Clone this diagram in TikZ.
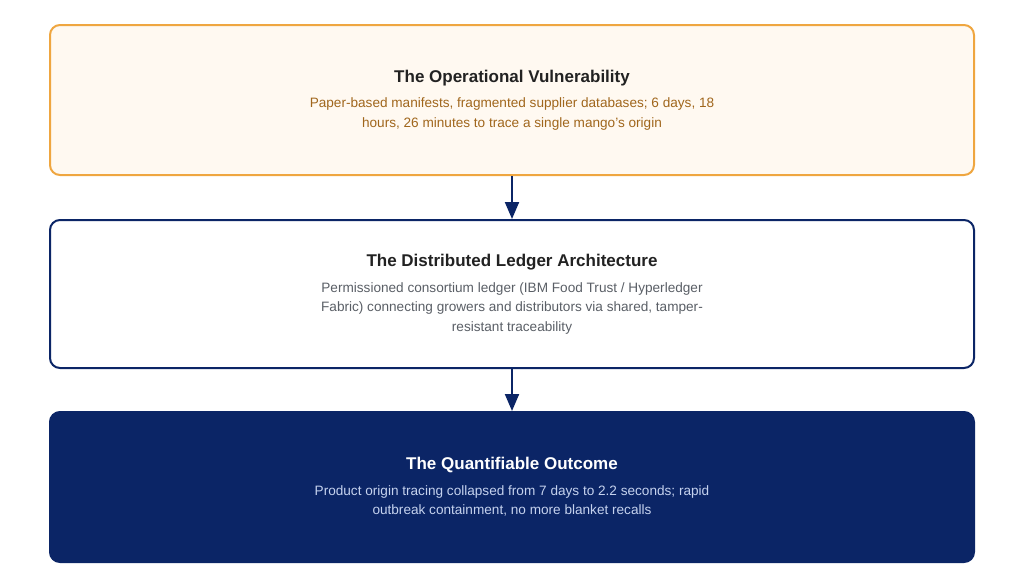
\documentclass[tikz,border=0pt]{standalone}
\usepackage{fontspec}
\setmainfont{Liberation Sans}
\usepackage{xcolor}
\usetikzlibrary{positioning,arrows.meta}
\definecolor{warnedge}{HTML}{EFA640}
\definecolor{warnfill}{HTML}{FFF9F1}
\definecolor{warntext}{HTML}{A0661C}
\definecolor{navy}{HTML}{0B2566}
\definecolor{greytext}{HTML}{5A5F66}
\definecolor{paleblue}{HTML}{C5D2EE}
\definecolor{titledark}{HTML}{222222}
\newcommand{\cardbody}[2]{\parbox[t]{600pt}{\centering\fontsize{13.6}{19.5}\selectfont\color{#1}#2}}

\begin{document}
\begin{tikzpicture}[x=1pt,y=1pt,
    card/.style={rounded corners=10pt,line width=2pt,minimum width=924pt,minimum height=150pt,align=center,inner sep=0pt},
    link/.style={navy,line width=2pt,-{Triangle[length=17pt,width=14pt]}}]
        %%% FRAME %%%
        \useasboundingbox (0,0) rectangle (1024,-587);

        %%% CARDS %%%
        \node[card,draw=warnedge,fill=warnfill] (vuln) at (512,-100)
            {{\fontsize{17}{20}\selectfont\bfseries\color{titledark}The Operational Vulnerability}\\[4pt]
             \cardbody{warntext}{Paper-based manifests, fragmented supplier databases; 6 days, 18\\hours, 26 minutes to trace a single mango's origin}};
        \node[card,draw=navy,fill=white,minimum height=148pt,below=43pt of vuln] (ledger)
            {{\fontsize{17}{20}\selectfont\bfseries\color{titledark}The Distributed Ledger Architecture}\\[4pt]
             \cardbody{greytext}{Permissioned consortium ledger (IBM Food Trust / Hyperledger\\Fabric) connecting growers and distributors via shared, tamper-\\resistant traceability}};
        \node[card,draw=navy,fill=navy,below=42pt of ledger] (outcome)
            {{\fontsize{17}{20}\selectfont\bfseries\color{white}The Quantifiable Outcome}\\[4pt]
             \cardbody{paleblue}{Product origin tracing collapsed from 7 days to 2.2 seconds; rapid\\outbreak containment, no more blanket recalls}};

        %%% ARROWS %%%
        \draw[link] (vuln.south)--(ledger.north);
        \draw[link] (ledger.south)--(outcome.north);
\end{tikzpicture}
\end{document}
